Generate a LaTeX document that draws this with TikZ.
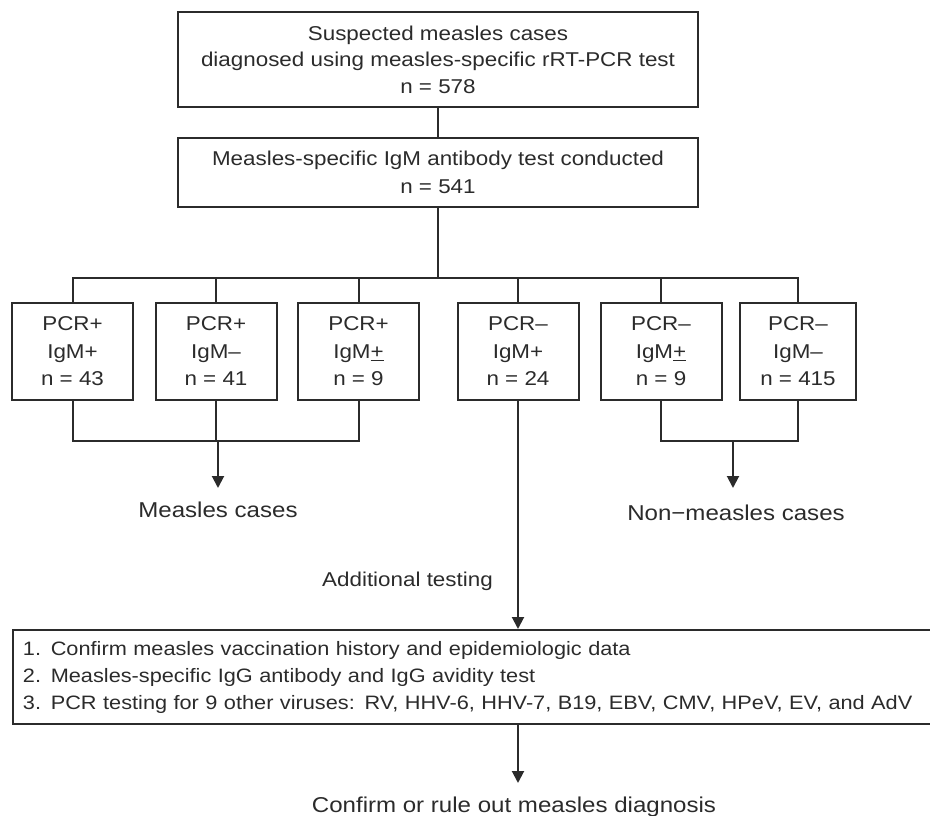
\documentclass[tikz,border=0pt]{standalone}
\usepackage{fontspec}
\setmainfont[FakeStretch=1.12]{Liberation Sans}
\usetikzlibrary{arrows.meta,calc}
\definecolor{ink}{HTML}{2B2B2B}
\tikzset{
  line/.style={draw=ink,line width=2pt},
  arr/.style={line,-{Triangle[length=12pt,width=12pt]}},
  box/.style={draw=ink,line width=2pt,align=center,inner sep=0pt,text=ink},
  sbox/.style={box,minimum width=121pt,minimum height=97pt,
    font=\fontsize{20}{27.5}\selectfont},
  lbl/.style={font=\fontsize{21.5}{24}\selectfont,inner sep=0pt,anchor=base,text=ink}
}
\begin{document}
\begin{tikzpicture}[x=1pt,y=-1pt]
\useasboundingbox (0,0) rectangle (930,816);
\node[box,minimum width=520pt,minimum height=95pt,font=\fontsize{20}{26.5}\selectfont] (top) at (438,59.5)
  {Suspected measles cases\\diagnosed using measles-specific rRT-PCR test\\n = 578};
\node[box,minimum width=520pt,minimum height=69pt,font=\fontsize{20}{28}\selectfont] (igm) at (438,172.5)
  {Measles-specific IgM antibody test conducted\\n = 541};
\node[sbox] (b1) at (72.5,351.5) {PCR+\\IgM+\\n = 43};
\node[sbox] (b2) at (216,351.5) {PCR+\\IgM–\\n = 41};
\node[sbox] (b3) at (358.5,351.5) {PCR+\\IgM\underline{+}\\n = 9};
\node[sbox] (b4) at (518,351.5) {PCR–\\IgM+\\n = 24};
\node[sbox] (b5) at (661,351.5) {PCR–\\IgM\underline{+}\\n = 9};
\node[sbox,minimum width=116pt] (b6) at (798,351.5) {PCR–\\IgM–\\n = 415};
\coordinate (bus) at (438,278);
\draw[line] (top.south) -- (igm.north);
\draw[line] (igm.south) -- (bus);
\draw[line] (b1.north) -- (b1.north |- bus) -- (b6.north |- bus) -- (b6.north);
\foreach \b in {b2,b3,b4,b5} \draw[line] (\b.north |- bus) -- (\b.north);
% left group
\coordinate (lbus) at (218,441);
\draw[line] (b1.south) -- (b1.south |- lbus) -- (b3.south |- lbus) -- (b3.south);
\draw[line] (b2.south) -- (b2.south |- lbus);
\coordinate (mctip) at (218,488);
\draw[arr] (lbus) -- (mctip);
\node[lbl] (mc) at (218,517) {Measles cases};
% right group
\coordinate (rbus) at (733,441);
\draw[line] (b5.south) -- (b5.south |- rbus) -- (b6.south |- rbus) -- (b6.south);
\coordinate (nmctip) at (733,488);
\draw[arr] (rbus) -- (nmctip);
\node[lbl] (nmc) at (736,520) {Non−measles cases};
% additional testing
\node[box,anchor=north west,align=left,text width=1000pt,inner xsep=10pt,
  minimum height=94pt,font=\fontsize{19.4}{27}\selectfont] (big) at (12,629)
  {1. Confirm measles vaccination history and epidemiologic data\\
   2. Measles-specific IgG antibody and IgG avidity test\\
   3. PCR testing for 9 other viruses: RV, HHV-6, HHV-7, B19, EBV, CMV, HPeV, EV, and AdV};
\draw[arr] (b4.south) -- (b4.south |- big.north);
\node[lbl,anchor=base east,font=\fontsize{20}{24}\selectfont] (add) at (493,586) {Additional testing};
\coordinate (ctip) at (518,783);
\draw[arr] (b4.south |- big.south) -- (ctip);
\node[lbl] (conf) at (514,812) {Confirm or rule out measles diagnosis};
\end{tikzpicture}
\end{document}
